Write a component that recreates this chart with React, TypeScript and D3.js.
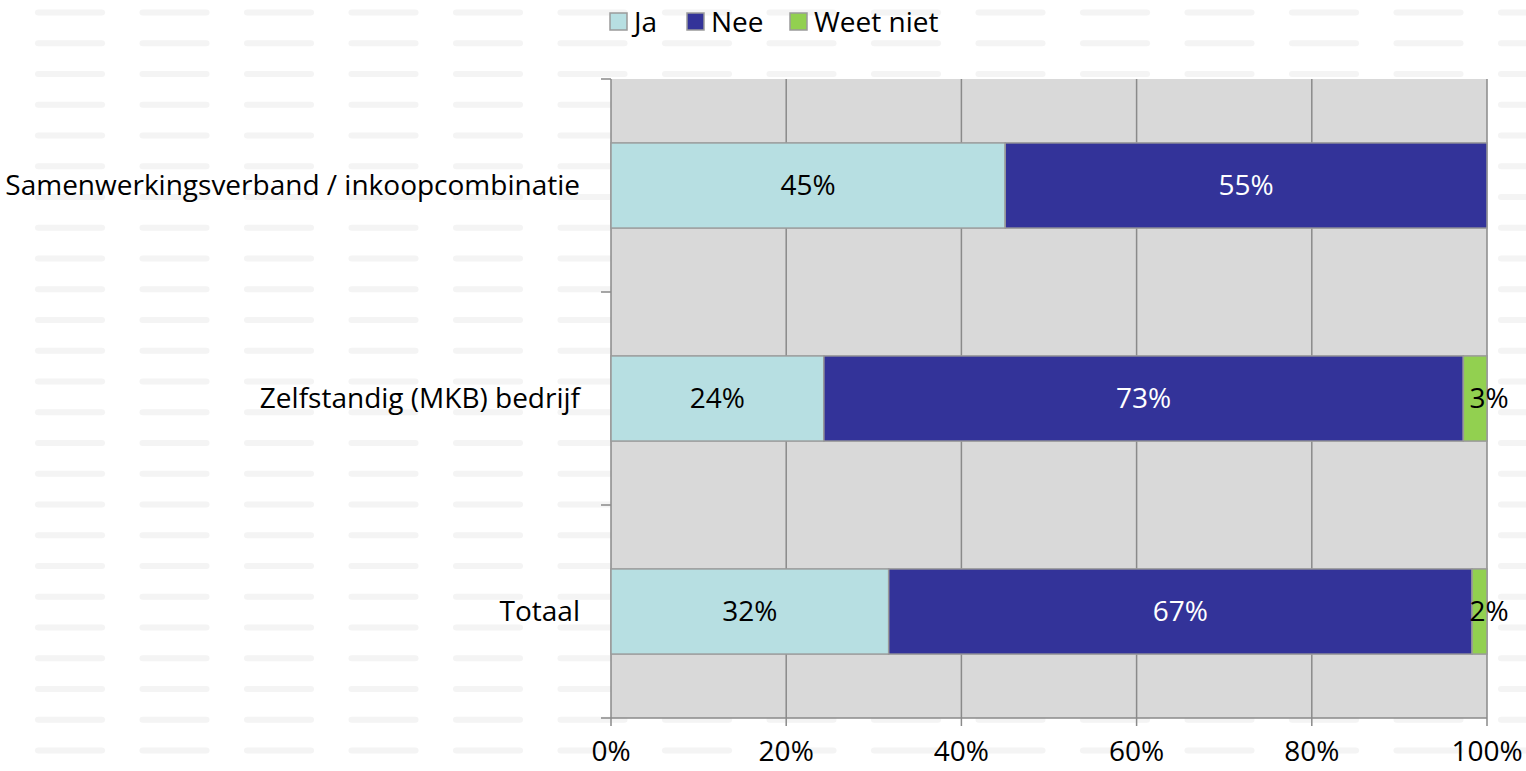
import React from 'react';
import * as d3 from 'd3';

const categories = ['Samenwerkingsverband / inkoopcombinatie', 'Zelfstandig (MKB) bedrijf', 'Totaal'];
const seriesNames = ['Ja', 'Nee', 'Weet niet'];
const ja = [45, 24.3, 31.7];
const nee = [55, 73, 66.6];
const weetNiet = [0, 2.7, 1.7];
const labelsJa = ['45%', '24%', '32%'];
const labelsNee = ['55%', '73%', '67%'];
const labelsWeet = ['', '3%', '2%'];
const xTicks = [0, 20, 40, 60, 80, 100];

const colors = ['#b7dfe2', '#333399', '#92d050'];
const labelColors = ['#000', '#fff', '#000'];

const W = 1526;
const H = 771;
const margin = { left: 611, right: 39, top: 79, bottom: 53 };
const font = '"Open Sans", sans-serif';
const fs = 28;

const App = () => {
  const x = d3.scaleLinear().domain([0, 100]).range([margin.left, W - margin.right]);
  const y = d3.scaleBand().domain(categories).range([margin.top, H - margin.bottom]).paddingInner(0.6).paddingOuter(0.3);
  const band = d3.scaleBand().domain(categories).range([margin.top, H - margin.bottom]);

  const rows = categories.map((c, i) => ({ cat: c, Ja: ja[i], Nee: nee[i], 'Weet niet': weetNiet[i] }));
  const stacked = d3.stack().keys(seriesNames)(rows as any);
  const labels = [labelsJa, labelsNee, labelsWeet];

  // achtergrondpatroon
  const dashes: { x: number; y: number }[] = [];
  for (let r = 0; r < 25; r++) {
    for (let c = 0; c < 15; c++) {
      dashes.push({ x: 35 + c * 104.5, y: 9.5 + r * 30.75 });
    }
  }

  const x0 = x(0);
  const x1 = x(100);
  const yTop = margin.top;
  const yBot = H - margin.bottom;

  return (
    <svg width={W} height={H} style={{ position: 'absolute', left: 0, top: 0, background: '#fff' }}>
      <g fill="#f4f4f4">
        {dashes.map((d, i) => (
          <rect key={i} x={d.x} y={d.y} width={70} height={6} rx={3} />
        ))}
      </g>
      <rect x={x0} y={yTop} width={x1 - x0} height={yBot - yTop} fill="#d9d9d9" />
      {xTicks.map(t => (
        <line key={t} x1={x(t)} x2={x(t)} y1={yTop} y2={yBot + 8} stroke="#8a8a8a" strokeWidth={1.5} />
      ))}
      <line x1={x0} x2={x1} y1={yBot} y2={yBot} stroke="#8a8a8a" strokeWidth={1.5} />
      {categories.map(c => (
        <line key={c} x1={x0 - 10} x2={x0} y1={band(c)!} y2={band(c)!} stroke="#8a8a8a" strokeWidth={1.5} />
      ))}
      <line x1={x0 - 10} x2={x0} y1={yBot} y2={yBot} stroke="#8a8a8a" strokeWidth={1.5} />

      {stacked.map((s, si) => (
        <g key={s.key}>
          {s.map((d, i) =>
            d[1] - d[0] > 0 ? (
              <rect
                key={i}
                x={x(d[0])}
                y={y(categories[i])!}
                width={x(d[1]) - x(d[0])}
                height={y.bandwidth()}
                fill={colors[si]}
                stroke="#9a9a9a"
                strokeWidth={1.5}
              />
            ) : null
          )}
        </g>
      ))}
      {stacked.map((s, si) => (
        <g key={'l' + s.key} fontFamily={font} fontSize={fs} textAnchor="middle">
          {s.map((d, i) =>
            labels[si][i] ? (
              <text
                key={i}
                x={si === 2 ? x(d[1]) + 2 : (x(d[0]) + x(d[1])) / 2}
                y={y(categories[i])! + y.bandwidth() / 2}
                dy="0.35em"
                fill={labelColors[si]}
              >
                {labels[si][i]}
              </text>
            ) : null
          )}
        </g>
      ))}

      <g fontFamily={font} fontSize={fs} fill="#000">
        {categories.map(c => (
          <text key={c} x={x0 - 31} y={y(c)! + y.bandwidth() / 2} dy="0.35em" textAnchor="end">
            {c}
          </text>
        ))}
        {xTicks.map(t => (
          <text key={t} x={x(t)} y={751} dy="0.35em" textAnchor="middle">
            {t + '%'}
          </text>
        ))}
      </g>

      <g fontFamily={font} fontSize={fs}>
        {seriesNames.map((n, i) => {
          const lx = [610, 687, 790][i];
          return (
            <g key={n}>
              <rect x={lx} y={13} width={17} height={17} fill={colors[i]} stroke="#9a9a9a" strokeWidth={1.5} />
              <text x={lx + 24} y={22} dy="0.35em">{n}</text>
            </g>
          );
        })}
      </g>
    </svg>
  );
};

export default App;
